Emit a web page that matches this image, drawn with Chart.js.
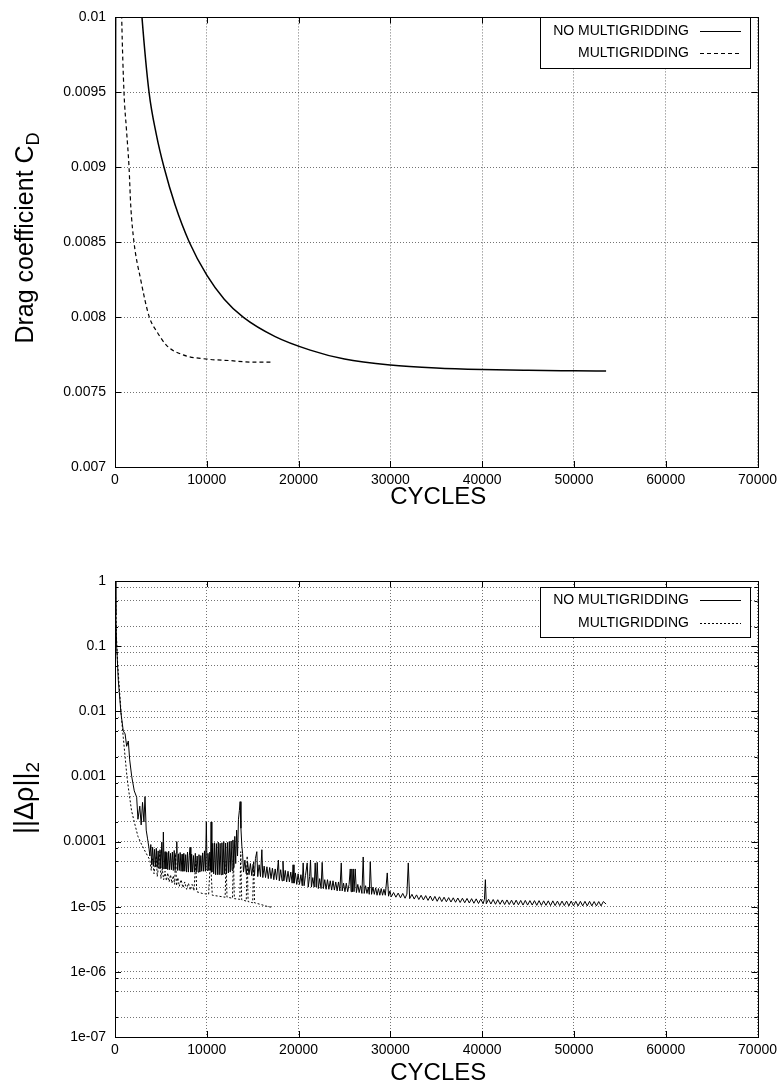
<!DOCTYPE html>
<html>
<head>
<meta charset="utf-8">
<script src="https://cdn.jsdelivr.net/npm/chart.js@4"></script>
<style>
html, body { margin: 0; padding: 0; background: #fff; }
#cdChart { position: absolute; left: 0; top: 0; }
#resChart { position: absolute; left: 0; top: 540px; }
</style>
</head>
<body>
<canvas id="cdChart" width="782" height="540"></canvas>
<canvas id="resChart" width="782" height="546"></canvas>
<script>
// values
var seriesNames = ["NO MULTIGRIDDING", "MULTIGRIDDING"];

var cycleTicks = [0, 10000, 20000, 30000, 40000, 50000, 60000, 70000];
var cdTicks = [0.007, 0.0075, 0.008, 0.0085, 0.009, 0.0095, 0.01];
var cdTickLabels = ["0.007", "0.0075", "0.008", "0.0085", "0.009", "0.0095", "0.01"];
var resMajorTicks = [1e-7, 1e-6, 1e-5, 1e-4, 1e-3, 1e-2, 1e-1, 1];
var resTickLabels = ["1e-07", "1e-06", "1e-05", "0.0001", "0.001", "0.01", "0.1", "1"];
var resMinorSteps = [2, 5, 8];

// drag coefficient vs cycles [cycle, CD]
var cdNoMg = [
  [0, 0.0062], [150, 0.0125], [1500, 0.0113], [2940, 0.0100], [3710, 0.0095],
  [4500, 0.00922], [5340, 0.0090], [6540, 0.00875], [8100, 0.0085], [10000, 0.00828],
  [11900, 0.00812], [13960, 0.0080], [17450, 0.00787], [21270, 0.00778], [25000, 0.00772],
  [30000, 0.00768], [35000, 0.00766], [40000, 0.00765], [45000, 0.007645], [50000, 0.007642],
  [53500, 0.00764]
];
var cdMg = [
  [0, 0.0062], [100, 0.0125], [400, 0.0112], [730, 0.0100], [980, 0.0095],
  [1250, 0.00925], [1530, 0.0090], [1710, 0.00875], [2070, 0.0085], [2800, 0.00825],
  [3740, 0.0080], [4600, 0.00790], [5640, 0.00781], [7420, 0.007748], [10000, 0.00772],
  [12500, 0.00771], [15000, 0.00770], [17200, 0.00770]
];

// density residual vs cycles [cycle, ||drho||2]
var resNoMg = [
  [0, 1.0], [100, 0.3], [180, 0.1], [360, 0.03], [650, 0.0094], [900, 0.005],
  [1100, 0.0045], [1270, 0.0029], [1450, 0.0035], [1600, 0.0018], [1820, 0.001],
  [2100, 6e-4], [2360, 4.8e-4], [2500, 2.2e-4], [2700, 3.5e-4], [2850, 1.8e-4],
  [3000, 4e-4], [3150, 2e-4], [3270, 4.9e-4], [3400, 1.5e-4], [3550, 1.1e-4], [3700, 8e-5],
  [3800, 6.0e-5], [3900, 9.0e-5], [4000, 4.4e-5], [4100, 8.2e-5], [4200, 4.2e-5],
  [4300, 7.6e-5], [4400, 4.1e-5], [4500, 7.9e-5], [4600, 4.0e-5], [4700, 7.2e-5],
  [4800, 3.9e-5], [4900, 7.5e-5], [5000, 3.9e-5], [5100, 9.8e-5], [5200, 3.8e-5],
  [5270, 1.4e-4], [5350, 3.8e-5], [5450, 7.0e-5], [5550, 3.8e-5], [5650, 6.8e-5],
  [5750, 3.7e-5], [5850, 7.1e-5], [5950, 3.7e-5], [6050, 6.6e-5], [6150, 3.7e-5],
  [6250, 6.9e-5], [6350, 3.6e-5], [6450, 7.3e-5], [6550, 3.6e-5], [6650, 6.7e-5],
  [6730, 1.0e-4], [6800, 3.6e-5], [6900, 6.5e-5], [7000, 3.6e-5], [7100, 6.8e-5],
  [7200, 3.5e-5], [7300, 6.4e-5], [7400, 3.5e-5], [7500, 6.6e-5], [7600, 3.5e-5],
  [7700, 6.3e-5], [7800, 3.4e-5], [7900, 6.9e-5], [8000, 3.4e-5], [8100, 6.2e-5],
  [8180, 8.2e-5], [8260, 3.4e-5], [8350, 6.4e-5], [8450, 3.4e-5], [8550, 6.1e-5],
  [8650, 3.4e-5], [8750, 6.6e-5], [8850, 3.4e-5], [8950, 6.0e-5], [9050, 3.4e-5],
  [9150, 6.3e-5], [9250, 3.4e-5], [9350, 6.1e-5], [9450, 3.5e-5], [9550, 6.7e-5],
  [9650, 3.5e-5], [9750, 7.2e-5], [9850, 3.5e-5], [9950, 2.0e-4], [10030, 3.6e-5],
  [10130, 6.6e-5], [10230, 3.6e-5], [10330, 6.9e-5], [10400, 3.6e-5], [10470, 2.0e-4],
  [10550, 3.4e-5], [10650, 9.4e-5], [10750, 3.2e-5], [10850, 9.6e-5], [10950, 3.1e-5],
  [11050, 9.3e-5], [11150, 3.1e-5], [11250, 9.8e-5], [11350, 3.1e-5], [11450, 9.4e-5],
  [11550, 3.1e-5], [11650, 9.6e-5], [11750, 3.1e-5], [11850, 1.0e-4], [11950, 3.2e-5],
  [12050, 9.5e-5], [12150, 3.2e-5], [12250, 9.7e-5], [12350, 3.3e-5], [12450, 1.0e-4],
  [12550, 3.4e-5], [12650, 1.02e-4], [12750, 3.6e-5], [12850, 1.06e-4], [12950, 4.0e-5],
  [13050, 1.2e-4], [13150, 4.6e-5], [13250, 1.5e-4], [13350, 6.0e-5], [13450, 2.2e-4],
  [13550, 3.0e-4], [13630, 4.1e-4], [13720, 1.6e-4], [13820, 8.5e-5], [13900, 6.6e-5],
  [14000, 3.4e-5], [14150, 5.2e-5], [14300, 3.2e-5], [14450, 4.8e-5], [14600, 3.1e-5],
  [14750, 4.6e-5], [14900, 3.0e-5], [15050, 4.5e-5], [15200, 3.0e-5], [15300, 5.5e-5],
  [15450, 7.0e-5], [15550, 2.9e-5], [15700, 4.4e-5], [15850, 2.9e-5], [16000, 7.5e-5],
  [16100, 2.8e-5], [16250, 4.2e-5], [16400, 2.8e-5], [16550, 4.1e-5], [16700, 2.7e-5],
  [16850, 4.0e-5], [17000, 2.7e-5], [17150, 3.9e-5], [17300, 2.6e-5], [17450, 3.8e-5],
  [17600, 2.6e-5], [17800, 5.2e-5], [17900, 2.5e-5], [18050, 3.7e-5], [18200, 2.5e-5],
  [18300, 5.0e-5], [18400, 2.5e-5], [18550, 3.6e-5], [18700, 2.4e-5], [18850, 3.5e-5],
  [19000, 2.4e-5], [19150, 3.4e-5], [19300, 2.3e-5], [19400, 4.4e-5], [19500, 2.3e-5],
  [19650, 3.3e-5], [19800, 2.2e-5], [19950, 3.2e-5], [20100, 2.2e-5], [20250, 3.1e-5],
  [20400, 2.1e-5], [20500, 4.7e-5], [20600, 2.1e-5], [20750, 3.0e-5], [20940, 4.7e-5],
  [21050, 2.0e-5], [21200, 2.9e-5], [21300, 5.2e-5], [21400, 2.0e-5], [21550, 2.8e-5],
  [21700, 2.0e-5], [21810, 4.7e-5], [21920, 2.0e-5], [22030, 4.8e-5], [22150, 1.9e-5],
  [22300, 2.7e-5], [22450, 1.9e-5], [22570, 4.8e-5], [22700, 1.9e-5], [22850, 2.6e-5],
  [23000, 1.85e-5], [23150, 2.6e-5], [23300, 1.85e-5], [23450, 2.5e-5], [23600, 1.8e-5],
  [23750, 2.5e-5], [23900, 1.8e-5], [24050, 2.4e-5], [24200, 1.75e-5], [24350, 2.4e-5],
  [24500, 1.75e-5], [24650, 4.7e-5], [24750, 1.75e-5], [24900, 2.3e-5], [25050, 1.7e-5],
  [25200, 2.3e-5], [25350, 1.7e-5], [25500, 2.2e-5], [25630, 3.8e-5], [25720, 1.7e-5],
  [25800, 3.8e-5], [25880, 1.7e-5], [25960, 3.8e-5], [26040, 1.7e-5], [26170, 3.8e-5],
  [26300, 1.65e-5], [26450, 2.2e-5], [26600, 1.65e-5], [26750, 2.1e-5], [26900, 1.6e-5],
  [27040, 5.8e-5], [27150, 1.6e-5], [27300, 2.1e-5], [27450, 1.6e-5], [27600, 2.0e-5],
  [27700, 1.55e-5], [27810, 4.9e-5], [27950, 1.55e-5], [28100, 2.0e-5], [28250, 1.55e-5],
  [28400, 1.95e-5], [28550, 1.5e-5], [28700, 1.9e-5], [28850, 1.5e-5], [29000, 1.9e-5],
  [29150, 1.5e-5], [29300, 1.85e-5], [29450, 1.5e-5], [29660, 3.3e-5], [29800, 1.45e-5],
  [29950, 1.75e-5], [30100, 1.42e-5], [30350, 1.65e-5], [30600, 1.4e-5], [30850, 1.62e-5],
  [31100, 1.37e-5], [31350, 1.6e-5], [31600, 1.35e-5], [31800, 1.56e-5], [31950, 4.7e-5],
  [32100, 1.33e-5], [32350, 1.55e-5], [32600, 1.31e-5], [32850, 1.52e-5], [33100, 1.29e-5],
  [33350, 1.5e-5], [33600, 1.27e-5], [33850, 1.48e-5], [34100, 1.25e-5], [34350, 1.46e-5],
  [34600, 1.23e-5], [34850, 1.44e-5], [35100, 1.21e-5], [35350, 1.42e-5], [35600, 1.2e-5],
  [35850, 1.4e-5], [36100, 1.19e-5], [36350, 1.38e-5], [36600, 1.18e-5], [36850, 1.37e-5],
  [37100, 1.17e-5], [37350, 1.36e-5], [37600, 1.16e-5], [37850, 1.35e-5], [38100, 1.15e-5],
  [38350, 1.34e-5], [38600, 1.14e-5], [38850, 1.33e-5], [39100, 1.13e-5], [39350, 1.32e-5],
  [39600, 1.12e-5], [39850, 1.31e-5], [40100, 1.11e-5], [40250, 1.3e-5], [40350, 2.6e-5],
  [40450, 1.11e-5], [40700, 1.3e-5], [40950, 1.1e-5], [41200, 1.29e-5], [41450, 1.09e-5],
  [41700, 1.28e-5], [41950, 1.09e-5], [42200, 1.27e-5], [42450, 1.08e-5], [42700, 1.27e-5],
  [42950, 1.08e-5], [43200, 1.26e-5], [43450, 1.07e-5], [43700, 1.26e-5], [43950, 1.07e-5],
  [44200, 1.25e-5], [44450, 1.06e-5], [44700, 1.25e-5], [44950, 1.06e-5], [45200, 1.24e-5],
  [45450, 1.06e-5], [45700, 1.24e-5], [45950, 1.05e-5], [46200, 1.24e-5], [46450, 1.05e-5],
  [46700, 1.23e-5], [46950, 1.05e-5], [47200, 1.23e-5], [47450, 1.04e-5], [47700, 1.23e-5],
  [47950, 1.04e-5], [48200, 1.22e-5], [48450, 1.04e-5], [48700, 1.22e-5], [48950, 1.04e-5],
  [49200, 1.22e-5], [49450, 1.03e-5], [49700, 1.22e-5], [49950, 1.03e-5], [50200, 1.21e-5],
  [50450, 1.03e-5], [50700, 1.21e-5], [50950, 1.03e-5], [51200, 1.21e-5], [51450, 1.03e-5],
  [51700, 1.21e-5], [51950, 1.03e-5], [52200, 1.2e-5], [52450, 1.03e-5], [52700, 1.2e-5],
  [52950, 1.03e-5], [53200, 1.2e-5], [53500, 1.1e-5]
];
var resMg = [
  [0, 1.0], [80, 0.5], [150, 0.15], [300, 0.05], [500, 0.02], [700, 0.008],
  [900, 0.004], [1100, 0.002], [1300, 0.001], [1500, 6e-4], [1800, 3e-4], [2100, 2e-4],
  [2500, 1.2e-4], [2900, 9e-5], [3300, 7e-5], [3800, 5.2e-5], [3950, 3.6e-5],
  [4100, 5.5e-5], [4250, 3.2e-5], [4400, 4.8e-5], [4500, 6e-5], [4600, 2.9e-5],
  [4750, 4.2e-5], [4900, 7e-5], [5000, 2.7e-5], [5150, 3.8e-5], [5300, 2.6e-5],
  [5450, 3.5e-5], [5600, 2.5e-5], [5750, 3.3e-5], [5900, 2.4e-5], [6050, 3.1e-5],
  [6200, 2.3e-5], [6350, 3.0e-5], [6500, 2.2e-5], [6600, 6.5e-5], [6700, 2.1e-5],
  [6850, 2.8e-5], [7000, 2.05e-5], [7200, 2.6e-5], [7400, 1.95e-5], [7600, 2.4e-5],
  [7800, 1.85e-5], [8000, 2.3e-5], [8200, 1.8e-5], [8400, 2.2e-5], [8600, 1.75e-5],
  [8800, 5e-5], [8900, 1.7e-5], [9500, 1.6e-5], [10200, 1.55e-5], [10400, 5.5e-5],
  [10600, 1.5e-5], [11300, 1.45e-5], [12000, 1.4e-5], [12100, 5e-5], [12200, 1.4e-5],
  [12800, 1.35e-5], [12900, 6e-5], [13000, 1.33e-5], [13600, 1.3e-5], [13700, 7e-5],
  [13800, 1.28e-5], [14300, 1.22e-5], [14400, 6e-5], [14500, 1.2e-5], [15000, 1.15e-5],
  [15100, 5e-5], [15200, 1.15e-5], [15700, 1.1e-5], [16200, 1.05e-5], [16700, 1.0e-5],
  [17200, 9.8e-6]
];

var FONT = '"Liberation Sans", Arial, sans-serif';

function toXY(pairs) {
  return pairs.map(function(p) { return { x: p[0], y: p[1] }; });
}

function resAllTicks() {
  var out = [];
  for (var i = 0; i < resMajorTicks.length; i++) {
    out.push(resMajorTicks[i]);
    if (i < resMajorTicks.length - 1) {
      resMinorSteps.forEach(function(m) { out.push(resMajorTicks[i] * m); });
    }
  }
  return out;
}

function xScaleOpts(height) {
  return {
    type: "linear", min: 0, max: 70000,
    afterBuildTicks: function(s) { s.ticks = cycleTicks.map(function(v) { return { value: v }; }); },
    afterFit: function(s) { s.height = height; },
    ticks: {
      autoSkip: false, maxRotation: 0, color: "#000", padding: 5,
      font: { family: FONT, size: 14 },
      callback: function(v) { return String(v); }
    },
    grid: { color: "rgba(0,0,0,0.55)", lineWidth: 1, drawTicks: false },
    border: { display: false, dash: [1, 2] }
  };
}

// frame, inward tick marks, axis titles, legend box
function decoPlugin(cfg) {
  return {
    id: "deco",
    afterDatasetsDraw: function(chart) {
      var ctx = chart.ctx, a = chart.chartArea;
      var xs = chart.scales.x, ys = chart.scales.y;
      ctx.save();
      ctx.strokeStyle = "#000";
      ctx.lineWidth = 1;
      ctx.setLineDash([]);
      ctx.strokeRect(Math.round(a.left) + 0.5, Math.round(a.top) + 0.5,
        Math.round(a.right - a.left), Math.round(a.bottom - a.top));
      ctx.beginPath();
      cycleTicks.forEach(function(v) {
        var px = Math.round(xs.getPixelForValue(v)) + 0.5;
        ctx.moveTo(px, a.bottom); ctx.lineTo(px, a.bottom - 6);
        ctx.moveTo(px, a.top); ctx.lineTo(px, a.top + 6);
      });
      cfg.yTicks().forEach(function(t) {
        var py = Math.round(ys.getPixelForValue(t.v)) + 0.5;
        ctx.moveTo(a.left, py); ctx.lineTo(a.left + t.len, py);
        ctx.moveTo(a.right, py); ctx.lineTo(a.right - t.len, py);
      });
      ctx.stroke();

      // x title
      ctx.fillStyle = "#000";
      ctx.font = "24px " + FONT;
      ctx.textAlign = "center";
      ctx.textBaseline = "middle";
      ctx.fillText("CYCLES", (a.left + a.right) / 2 + 2, cfg.xTitleY);

      // y title with subscript
      ctx.save();
      ctx.translate(cfg.yTitleX, cfg.yTitleY);
      ctx.rotate(-Math.PI / 2);
      ctx.font = cfg.ySize + "px " + FONT;
      var w1 = ctx.measureText(cfg.yMain).width;
      var subSize = Math.round(cfg.ySize * 0.7);
      ctx.font = subSize + "px " + FONT;
      var w2 = ctx.measureText(cfg.ySub).width;
      var x0 = -(w1 + w2) / 2;
      ctx.textAlign = "left";
      ctx.textBaseline = "alphabetic";
      ctx.font = cfg.ySize + "px " + FONT;
      ctx.fillText(cfg.yMain, x0, 8);
      ctx.font = subSize + "px " + FONT;
      ctx.fillText(cfg.ySub, x0 + w1, 14);
      ctx.restore();

      // legend
      var L = cfg.legend;
      ctx.fillStyle = "#fff";
      ctx.fillRect(L.x, L.y, L.w + 1, L.h + 1);
      ctx.strokeStyle = "#000";
      ctx.lineWidth = 1;
      ctx.strokeRect(L.x + 0.5, L.y + 0.5, L.w, L.h);
      ctx.font = "14px " + FONT;
      ctx.textAlign = "right";
      ctx.textBaseline = "middle";
      chart.data.datasets.forEach(function(ds, i) {
        var ry = L.rows[i];
        ctx.fillStyle = "#000";
        ctx.fillText(ds.label, L.textRight, ry);
        ctx.beginPath();
        ctx.setLineDash(ds.borderDash || []);
        ctx.lineWidth = 1;
        ctx.moveTo(L.lineFrom, Math.round(ry) + 0.5);
        ctx.lineTo(L.lineTo, Math.round(ry) + 0.5);
        ctx.stroke();
      });
      ctx.restore();
    }
  };
}

new Chart(document.getElementById("cdChart").getContext("2d"), {
  type: "line",
  data: {
    datasets: [{
      label: seriesNames[0],
      data: toXY(cdNoMg),
      borderColor: "#000", borderWidth: 1.5,
      cubicInterpolationMode: "monotone"
    }, {
      label: seriesNames[1],
      data: toXY(cdMg),
      borderColor: "#000", borderWidth: 1.2, borderDash: [4, 3],
      cubicInterpolationMode: "monotone"
    }]
  },
  options: {
    responsive: false, animation: false, devicePixelRatio: 1,
    parsing: false,
    layout: { padding: { top: 10, right: 24, left: 0, bottom: 0 } },
    elements: { point: { radius: 0 } },
    plugins: { legend: { display: false }, tooltip: { enabled: false } },
    scales: {
      x: xScaleOpts(73),
      y: {
        type: "linear", min: 0.007, max: 0.01,
        afterBuildTicks: function(s) { s.ticks = cdTicks.map(function(v) { return { value: v }; }); },
        afterFit: function(s) { s.width = 115; },
        ticks: {
          autoSkip: false, color: "#000", padding: 9,
          font: { family: FONT, size: 14 },
          callback: function(v, i) { return cdTickLabels[i]; }
        },
        grid: { color: "rgba(0,0,0,0.55)", lineWidth: 1, drawTicks: false },
        border: { display: false, dash: [1, 2] }
      }
    }
  },
  plugins: [decoPlugin({
    yTicks: function() { return cdTicks.map(function(v) { return { v: v, len: 6 }; }); },
    xTitleY: 497,
    yTitleX: 25, yTitleY: 238, ySize: 25,
    yMain: "Drag coefficient C", ySub: "D",
    legend: { x: 540, y: 17, w: 210, h: 51, rows: [31, 53], textRight: 689, lineFrom: 700, lineTo: 741 }
  })]
});

var resTicksAll = resAllTicks();

new Chart(document.getElementById("resChart").getContext("2d"), {
  type: "line",
  data: {
    datasets: [{
      label: seriesNames[0],
      data: toXY(resNoMg),
      borderColor: "#000", borderWidth: 1, tension: 0
    }, {
      label: seriesNames[1],
      data: toXY(resMg),
      borderColor: "#000", borderWidth: 1, borderDash: [2, 2], tension: 0
    }]
  },
  options: {
    responsive: false, animation: false, devicePixelRatio: 1,
    parsing: false,
    layout: { padding: { top: 41, right: 24, left: 0, bottom: 0 } },
    elements: { point: { radius: 0 } },
    plugins: { legend: { display: false }, tooltip: { enabled: false } },
    scales: {
      x: xScaleOpts(49),
      y: {
        type: "logarithmic", min: 1e-7, max: 1,
        afterBuildTicks: function(s) { s.ticks = resTicksAll.map(function(v) { return { value: v }; }); },
        afterFit: function(s) { s.width = 115; },
        ticks: {
          autoSkip: false, color: "#000", padding: 9,
          font: { family: FONT, size: 14 },
          callback: function(v) {
            var k = resMajorTicks.findIndex(function(m) { return Math.abs(m - v) / m < 1e-6; });
            return k >= 0 ? resTickLabels[k] : "";
          }
        },
        grid: { color: "rgba(0,0,0,0.55)", lineWidth: 1, drawTicks: false },
        border: { display: false, dash: [1, 2] }
      }
    }
  },
  plugins: [decoPlugin({
    yTicks: function() {
      return resTicksAll.map(function(v) {
        var major = resMajorTicks.some(function(m) { return Math.abs(m - v) / m < 1e-6; });
        return { v: v, len: major ? 6 : 3 };
      });
    },
    xTitleY: 533,
    yTitleX: 25, yTitleY: 258, ySize: 27,
    yMain: "||\u0394\u03c1||", ySub: "2",
    legend: { x: 540, y: 47, w: 210, h: 50, rows: [60, 83], textRight: 689, lineFrom: 700, lineTo: 741 }
  })]
});
</script>
</body>
</html>
